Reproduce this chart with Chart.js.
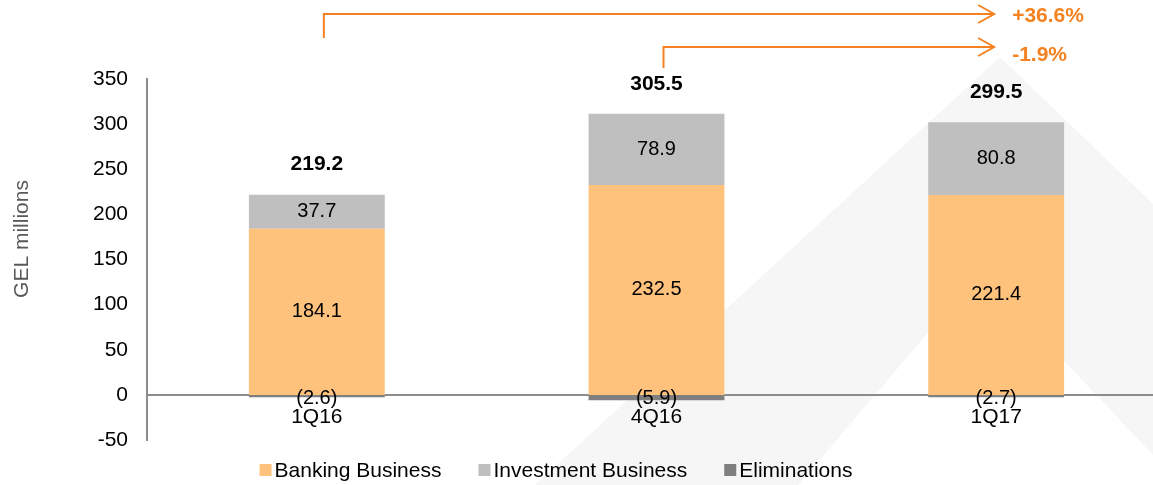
<!DOCTYPE html>
<html><head><meta charset="utf-8">
<script src="https://cdn.jsdelivr.net/npm/chart.js@4.4.1/dist/chart.umd.min.js"></script>
<style>html,body{margin:0;padding:0;background:#fff;overflow:hidden}canvas{display:block}</style>
</head><body>
<canvas id="c" style="width:1166px;height:485px"></canvas>
<script>
// ---- data ----
const categories = ['1Q16', '4Q16', '1Q17'];
const banking = [184.1, 232.5, 221.4];
const investment = [37.7, 78.9, 80.8];
const eliminations = [-2.6, -5.9, -2.7];
const seriesNames = ['Banking Business', 'Investment Business', 'Eliminations'];
const yMin = -50, yMax = 350, yStep = 50;
const changeFrom = [0, 1];
const changeTo = [2, 2];
const changeLabels = ['+36.6%', '-1.9%'];
const yTitle = 'GEL millions';

// ---- style ----
const colors = ['#FFC27D', '#BFBFBF', '#7F7F7F'];
const ORANGE = '#F58220';
const FONT = '"Liberation Sans", Arial, sans-serif';
const totals = categories.map((_, i) => banking[i] + investment[i] + eliminations[i]);

const watermark = {
  id: 'watermark',
  beforeDraw(chart) {
    const ctx = chart.ctx;
    ctx.save();
    ctx.fillStyle = '#F6F6F6';
    ctx.beginPath();
    ctx.moveTo(1000, 57); ctx.lineTo(1565, 600); ctx.lineTo(410, 600); ctx.closePath();
    ctx.moveTo(980, 272); ctx.lineTo(1290, 600); ctx.lineTo(700, 600); ctx.closePath();
    ctx.fill('evenodd');
    ctx.restore();
  }
};

const fmt = v => v < 0 ? '(' + Math.abs(v).toFixed(1) + ')' : v.toFixed(1);

const labelsPlugin = {
  id: 'labels',
  afterDatasetsDraw(chart) {
    const ctx = chart.ctx;
    ctx.save();
    ctx.textAlign = 'center';
    ctx.textBaseline = 'middle';
    ctx.fillStyle = '#000';
    ctx.font = '20px ' + FONT;
    chart.data.datasets.forEach((ds, di) => {
      const meta = chart.getDatasetMeta(di);
      meta.data.forEach((el, i) => {
        const v = ds.data[i];
        const cy = v < 0 ? el.base + 4 : (el.y + el.base) / 2;
        ctx.fillText(fmt(v), el.x, cy);
      });
    });
    // totals
    ctx.font = 'bold 21px ' + FONT;
    const m0 = chart.getDatasetMeta(1);
    m0.data.forEach((el, i) => {
      ctx.fillText(totals[i].toFixed(1), el.x, el.y - 30);
    });
    // y title
    ctx.font = '21px ' + FONT;
    ctx.fillStyle = '#595959';
    ctx.translate(22, 239);
    ctx.rotate(-Math.PI / 2);
    ctx.fillText(yTitle, 0, 0);
    ctx.restore();
  }
};

const arrowsPlugin = {
  id: 'arrows',
  afterDraw(chart) {
    const ctx = chart.ctx;
    const xs = chart.scales.x;
    const rows = [{y: 14, drop: 38}, {y: 47, drop: 68}];
    ctx.save();
    ctx.strokeStyle = ORANGE;
    ctx.fillStyle = ORANGE;
    ctx.lineWidth = 2;
    ctx.font = 'bold 21px ' + FONT;
    ctx.textBaseline = 'middle';
    ctx.textAlign = 'left';
    changeFrom.forEach((f, k) => {
      const x0 = xs.getPixelForValue(f) + 7;
      const x1 = xs.getPixelForValue(changeTo[k]) - 2;
      const r = rows[k];
      ctx.beginPath();
      ctx.moveTo(x0, r.drop); ctx.lineTo(x0, r.y); ctx.lineTo(x1, r.y);
      ctx.stroke();
      ctx.beginPath();
      ctx.moveTo(x1 - 16, r.y - 9); ctx.lineTo(x1, r.y); ctx.lineTo(x1 - 16, r.y + 9);
      ctx.stroke();
      ctx.fillText(changeLabels[k], x1 + 18, r.y + (k === 0 ? 2 : 8));
    });
    ctx.restore();
  }
};

const legendPlugin = {
  id: 'customLegend',
  afterDraw(chart) {
    const ctx = chart.ctx;
    ctx.save();
    ctx.font = '21px ' + FONT;
    ctx.textBaseline = 'middle';
    ctx.textAlign = 'left';
    const box = 12, gap = 3, sep = 37, y = 470;
    const widths = seriesNames.map(n => box + gap + ctx.measureText(n).width);
    const total = widths.reduce((a, b) => a + b, 0) + sep * (widths.length - 1);
    let x = 556 - total / 2;
    seriesNames.forEach((n, i) => {
      ctx.fillStyle = colors[i];
      ctx.fillRect(x, y - 6, box, box);
      ctx.fillStyle = '#000';
      ctx.fillText(n, x + box + gap, y + 1);
      x += widths[i] + sep;
    });
    ctx.restore();
  }
};

new Chart(document.getElementById('c'), {
  type: 'bar',
  data: {
    labels: categories,
    datasets: [
      {label: seriesNames[0], data: banking, backgroundColor: colors[0]},
      {label: seriesNames[1], data: investment, backgroundColor: colors[1]},
      {label: seriesNames[2], data: eliminations, backgroundColor: colors[2]}
    ]
  },
  options: {
    responsive: false,
    animation: false,
    devicePixelRatio: 1,
    barPercentage: 0.4,
    categoryPercentage: 1,
    layout: {padding: {top: 79, bottom: 45, left: 0, right: 0}},
    plugins: {legend: {display: false}, tooltip: {enabled: false}},
    scales: {
      x: {
        stacked: true,
        position: {y: 0},
        grid: {display: false, drawTicks: false},
        border: {color: '#8C8C8C', width: 2},
        ticks: {color: '#000', font: {family: FONT, size: 21}, padding: 10}
      },
      y: {
        stacked: true,
        min: yMin, max: yMax,
        grid: {display: false, drawTicks: false},
        border: {color: '#8C8C8C', width: 2},
        ticks: {stepSize: yStep, color: '#000', font: {family: FONT, size: 21}, padding: 19},
        afterFit(s) { s.width = 147; }
      }
    }
  },
  plugins: [watermark, labelsPlugin, arrowsPlugin, legendPlugin]
});
</script>
</body></html>
